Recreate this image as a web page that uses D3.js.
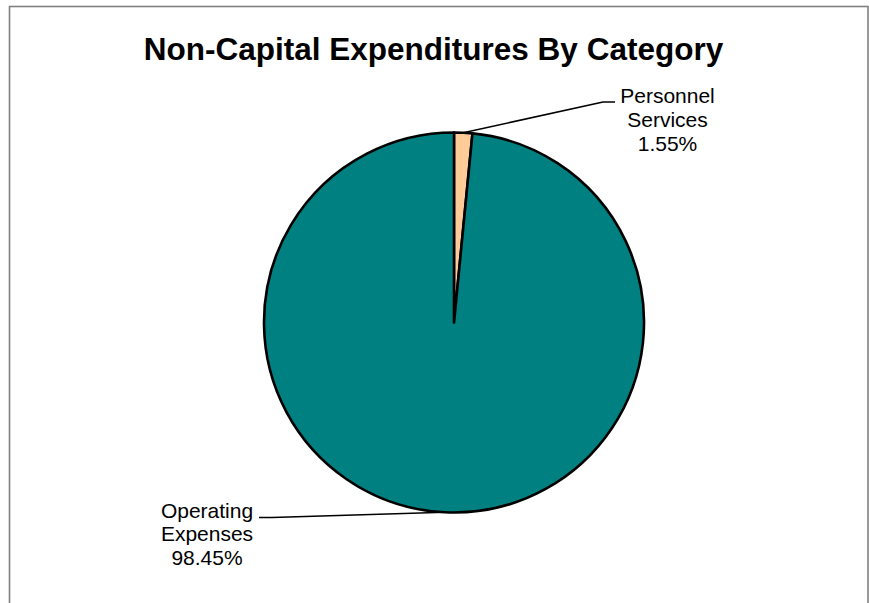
<!DOCTYPE html>
<html>
<head>
<meta charset="utf-8">
<script src="https://cdn.jsdelivr.net/npm/d3@7"></script>
<style>
  html, body { margin: 0; padding: 0; background: #fff; }
  svg { display: block; }
</style>
</head>
<body>
<svg id="chart" width="869" height="603"></svg>
<script>
// Expenditure categories and their share of the total (%)
const categories = ["Personnel Services", "Operating Expenses"];
const shares = [1.55, 98.45];
const sliceColors = ["#FFCC99", "#008080"];
const titleText = "Non-Capital Expenditures By Category";

const width = 869, height = 603;
const cx = 454, cy = 322.5, radius = 190;
const fontFamily = "'Liberation Sans', Arial, Helvetica, sans-serif";

const svg = d3.select("#chart");

// Outer chart frame (bottom edge runs past the page)
svg.append("rect")
  .attr("x", 9.5).attr("y", 6.5)
  .attr("width", 858.5).attr("height", 640)
  .attr("fill", "none")
  .attr("stroke", "#808080")
  .attr("stroke-width", 1.6);

// Title
svg.append("text")
  .attr("x", 433.5).attr("y", 60)
  .attr("text-anchor", "middle")
  .attr("font-family", fontFamily)
  .attr("font-weight", "bold")
  .attr("font-size", 31.5)
  .attr("fill", "#000")
  .text(titleText);

const data = categories.map((c, i) => ({ name: c, value: shares[i], color: sliceColors[i] }));

const pie = d3.pie().sort(null).value(d => d.value).startAngle(0).endAngle(2 * Math.PI);
const arcs = pie(data);

const arc = d3.arc().innerRadius(0).outerRadius(radius);
const edgeArc = d3.arc().innerRadius(radius).outerRadius(radius);

const g = svg.append("g").attr("transform", `translate(${cx},${cy})`);

g.selectAll("path.slice")
  .data(arcs)
  .join("path")
  .attr("class", "slice")
  .attr("d", arc)
  .attr("fill", d => d.data.color)
  .attr("stroke", "#000")
  .attr("stroke-width", 2.6)
  .attr("stroke-linejoin", "round");

// Label layout: text block anchor (relative to pie centre) and leader elbow
const labelLayout = {
  "Personnel Services": { tx: 213.5, ty: -219.5, elbow: [[149, -220.5], [161, -220.5]] },
  "Operating Expenses": { tx: -247, ty: 195, elbow: [[-182, 195], [-195, 195]] }
};

const fmt = v => v.toFixed(2) + "%";
const lineGap = 23.8;

arcs.forEach(a => {
  const lay = labelLayout[a.data.name];
  const start = edgeArc.centroid(a);
  const pts = [start, lay.elbow[0], lay.elbow[1]];
  g.append("path")
    .attr("d", d3.line()(pts))
    .attr("fill", "none")
    .attr("stroke", "#000")
    .attr("stroke-width", 1.6);

  const words = a.data.name.split(" ");
  const lines = [...words, fmt(a.data.value)];
  const t = g.append("text")
    .attr("text-anchor", "middle")
    .attr("font-family", fontFamily)
    .attr("font-size", 21)
    .attr("fill", "#000");
  lines.forEach((ln, i) => {
    t.append("tspan")
      .attr("x", lay.tx)
      .attr("y", lay.ty + i * lineGap)
      .text(ln);
  });
});
</script>
</body>
</html>
